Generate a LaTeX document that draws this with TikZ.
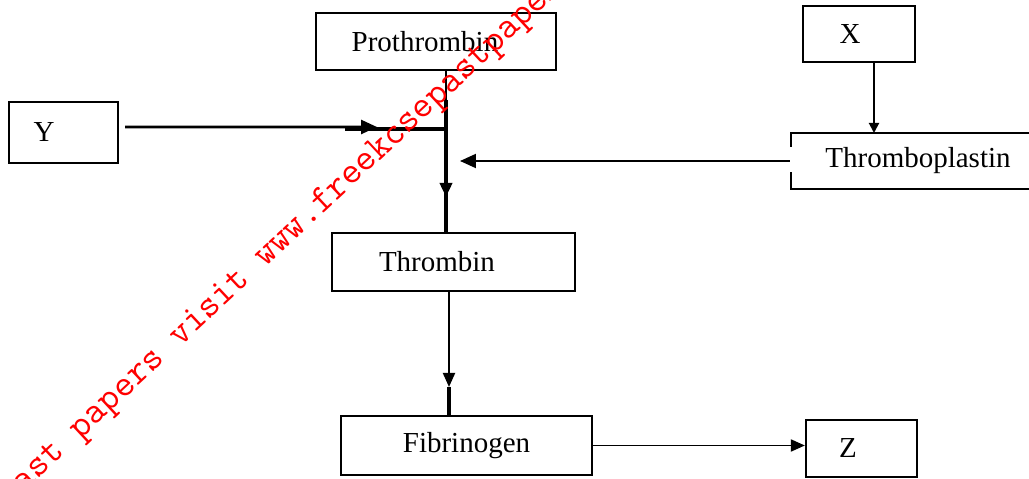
\documentclass[tikz,border=0pt]{standalone}
\usepackage{fontspec}
\setmainfont{Liberation Serif}
\usetikzlibrary{arrows.meta}
\begin{document}
\begin{tikzpicture}[x=0.02cm,y=-0.02cm,
  font=\fontsize{16.5}{19}\selectfont,
  box/.style={draw, line width=1.3pt, inner sep=0pt, fill=none},
  conn/.style={line width=1.1pt},
  yline/.style={line width=1.5pt},
  thickline/.style={line width=2pt},
  tip/.style={-{Triangle[length=0.28cm,width=0.24cm]}},
  bigtip/.style={-{Triangle[length=0.32cm,width=0.28cm]}},
  smalltip/.style={-{Triangle[length=0.2cm,width=0.2cm]}},
  wm/.style={text=red, font=\ttfamily\fontsize{21.5}{21.5}\selectfont, inner sep=0pt}
]
\useasboundingbox (0,0) rectangle (1029,479);
\clip (0,0) rectangle (1029,479);
\fill[white] (0,0) rectangle (1029,479);

% boxes
\node[box, minimum width=4.8cm, minimum height=1.14cm,
      label={[xshift=-0.22cm]center:Prothrombin}] (Pro) at (436,41.5) {};
\node[box, minimum width=2.24cm, minimum height=1.12cm,
      label={[xshift=-0.18cm]center:X}] (X) at (859,34) {};
\node[box, minimum width=5.08cm, minimum height=1.12cm,
      label={center:Thromboplastin}] (Thp) at (918,161) {};
\node[box, minimum width=2.18cm, minimum height=1.22cm,
      label={[xshift=-0.39cm]center:Y}] (Y) at (63.5,132.5) {};
\node[box, minimum width=4.86cm, minimum height=1.16cm,
      label={[xshift=-0.33cm]center:Thrombin}] (Thr) at (453.5,262) {};
\node[box, minimum width=5.02cm, minimum height=1.18cm,
      label={center:Fibrinogen}] (Fib) at (466.5,445.5) {};
\node[box, minimum width=2.22cm, minimum height=1.14cm,
      label={[xshift=-0.27cm]center:Z}] (Z) at (861.5,448.5) {};

% junction coordinates
\coordinate (pt1) at (446,100);
\coordinate (pa) at (446,197);
\coordinate (ya) at (377,127);
\coordinate (ys) at (345,129);
\coordinate (j1) at (446,129);
\coordinate (ta) at (460,161);
\coordinate (fa) at (449,387);
\coordinate (xa) at (874,133);
\coordinate (gapa) at (791,147);
\coordinate (gapb) at (791,172);

% gap in the left border of Thromboplastin
\draw[white, line width=2pt] (gapa) -- (gapb);

% Prothrombin -> Thrombin
\draw[conn] (Pro.south -| pa) -- (pt1);
\draw[thickline] (pt1) -- (pa |- Thr.north);
\draw[thickline, tip] (pt1) -- (pa);

% Y -> junction
\draw[yline, bigtip] ([shift={(0.12cm,0.11cm)}]Y.east) -- (ya);
\draw[thickline] (ys) -- (j1);

% Thromboplastin -> junction
\draw[conn, bigtip] (Thp.west) -- (ta);

% X -> Thromboplastin
\draw[conn, smalltip] (X.south -| xa) -- (xa);

% Thrombin -> Fibrinogen
\draw[conn, tip] (Thr.south -| fa) -- (fa);
\draw[thickline] (fa) -- (fa |- Fib.north);

% Fibrinogen -> Z
\draw[conn, tip] (Fib.east) -- (Fib.east -| Z.west);

% watermark
\node[wm, rotate=43, anchor=base west] (wmark) at (-119,626)
  {For more past papers visit www.freekcsepastpapers.com};
\end{tikzpicture}
\end{document}
